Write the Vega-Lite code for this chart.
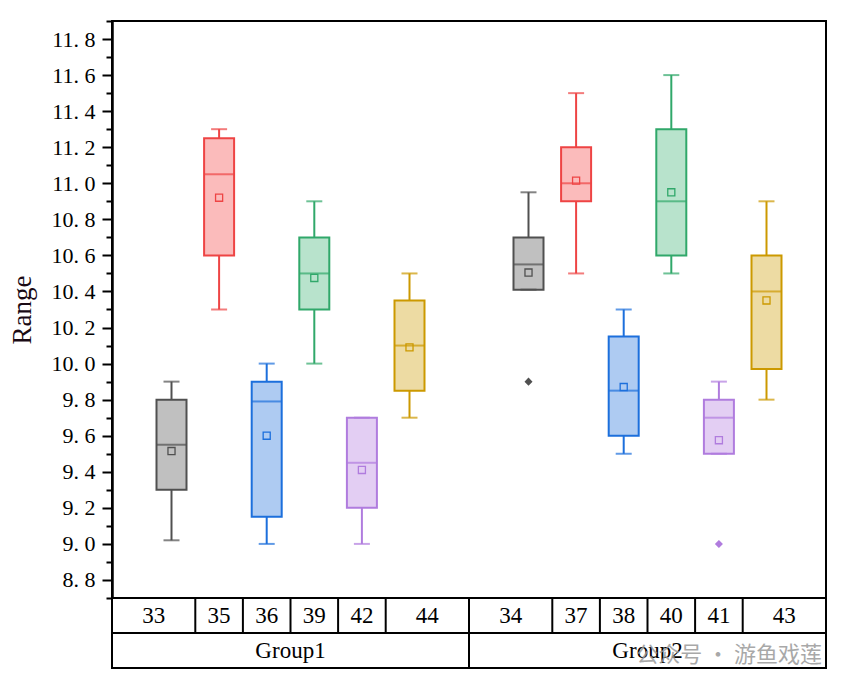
{
  "$schema": "https://vega.github.io/schema/vega-lite/v6.json",
  "background": "white",
  "padding": {"left": 7, "top": 19, "right": 23, "bottom": 10},
  "spacing": 0,
  "bounds": "flush",
  "config": {
    "view": {"stroke": "black", "strokeWidth": 2},
    "font": "Liberation Serif",
    "concat": {"spacing": 0}
  },
  "datasets": {
    "stats": [
      {"group": "Group1", "sample": "33", "min": 9.02, "q1": 9.3, "median": 9.55, "q3": 9.8, "max": 9.9, "mean": 9.515},
      {"group": "Group1", "sample": "35", "min": 10.3, "q1": 10.6, "median": 11.05, "q3": 11.25, "max": 11.3, "mean": 10.92},
      {"group": "Group1", "sample": "36", "min": 9.0, "q1": 9.15, "median": 9.79, "q3": 9.9, "max": 10.0, "mean": 9.6},
      {"group": "Group1", "sample": "39", "min": 10.0, "q1": 10.3, "median": 10.5, "q3": 10.7, "max": 10.9, "mean": 10.475},
      {"group": "Group1", "sample": "42", "min": 9.0, "q1": 9.2, "median": 9.45, "q3": 9.7, "max": 9.7, "mean": 9.41},
      {"group": "Group1", "sample": "44", "min": 9.7, "q1": 9.85, "median": 10.1, "q3": 10.35, "max": 10.5, "mean": 10.09},
      {"group": "Group2", "sample": "34", "min": 10.41, "q1": 10.41, "median": 10.55, "q3": 10.7, "max": 10.95, "mean": 10.505},
      {"group": "Group2", "sample": "37", "min": 10.5, "q1": 10.9, "median": 11.0, "q3": 11.2, "max": 11.5, "mean": 11.015},
      {"group": "Group2", "sample": "38", "min": 9.5, "q1": 9.6, "median": 9.85, "q3": 10.15, "max": 10.3, "mean": 9.87},
      {"group": "Group2", "sample": "40", "min": 10.5, "q1": 10.6, "median": 10.9, "q3": 11.3, "max": 11.6, "mean": 10.95},
      {"group": "Group2", "sample": "41", "min": 9.5, "q1": 9.5, "median": 9.7, "q3": 9.8, "max": 9.9, "mean": 9.575},
      {"group": "Group2", "sample": "43", "min": 9.8, "q1": 9.97, "median": 10.4, "q3": 10.6, "max": 10.9, "mean": 10.35}
    ],
    "outliers": [
      {"sample": "34", "value": 9.9},
      {"sample": "41", "value": 9.0}
    ],
    "groups": [
      {"group": "Group1", "note": ""},
      {"group": "Group2", "note": "公众号 · 游鱼戏莲"}
    ]
  },
  "vconcat": [
    {
      "width": 714,
      "height": 577,
      "data": {"name": "stats"},
      "resolve": {"axis": {"y": "independent"}},
      "encoding": {
        "x": {
          "field": "sample", "type": "nominal", "axis": null,
          "scale": {"type": "band", "paddingInner": 0, "paddingOuter": 1,
            "domain": ["e1","33","s1","35","s2","36","s3","39","s4","42","s5","44","s6","s7","s8","s9","34","s10","37","s11","38","s12","40","s13","41","s14","43","e2"]}
        }
      },
      "layer": [
        {
          "mark": {"type": "rule", "strokeWidth": 2},
          "encoding": {
            "y": {
              "field": "min", "type": "quantitative",
              "scale": {"domain": [8.7, 11.9], "nice": false, "zero": false},
              "axis": {
                "orient": "left", "title": null, "labels": false,
                "values": [8.7,8.9,9.1,9.3,9.5,9.7,9.9,10.1,10.3,10.5,10.7,10.9,11.1,11.3,11.5,11.7,11.9],
                "tickSize": 6, "tickWidth": 2, "tickColor": "black",
                "domainColor": "black", "domainWidth": 2, "grid": false
              }
            },
            "y2": {"field": "max"},
            "stroke": {"field": "sample", "type": "nominal", "legend": null,
              "scale": {"domain": ["33","35","36","39","42","44","34","37","38","40","41","43"],
                "range": ["#505050","#EE4444","#1C6FDC","#30A86A","#B07CDE","#CC9900","#505050","#EE4444","#1C6FDC","#30A86A","#B07CDE","#CC9900"]}}
          }
        },
        {
          "mark": {"type": "bar", "size": 30, "strokeWidth": 2},
          "encoding": {
            "y": {
              "field": "q1", "type": "quantitative", "title": "Range",
              "axis": {
                "orient": "left",
                "values": [8.8,9.0,9.2,9.4,9.6,9.8,10.0,10.2,10.4,10.6,10.8,11.0,11.2,11.4,11.6,11.8],
                "labelExpr": "replace(format(datum.value, '.1f'), '.', '. ')",
                "tickSize": 10, "tickWidth": 2, "tickColor": "black",
                "domainColor": "black", "domainWidth": 2, "grid": false,
                "labelFont": "Liberation Serif", "labelFontSize": 22, "labelColor": "black",
                "labelPadding": 7, "labelOverlap": false, "labelFlush": false,
                "titleFont": "Liberation Serif", "titleFontSize": 27, "titleFontWeight": "normal",
                "titleColor": "#1a0a14", "titlePadding": 15
              }
            },
            "y2": {"field": "q3"},
            "fill": {"field": "sample", "type": "nominal", "legend": null,
              "scale": {"domain": ["33","35","36","39","42","44","34","37","38","40","41","43"],
                "range": ["#C0C0C0","#FBBBBB","#AECBF2","#B8E3CC","#E3CEF3","#EDDBA3","#C0C0C0","#FBBBBB","#AECBF2","#B8E3CC","#E3CEF3","#EDDBA3"]}},
            "stroke": {"field": "sample", "type": "nominal", "legend": null}
          }
        },
        {
          "mark": {"type": "tick", "size": 30, "thickness": 2},
          "encoding": {
            "y": {"field": "median", "type": "quantitative", "axis": null},
            "color": {"field": "sample", "type": "nominal", "legend": null,
              "scale": {"domain": ["33","35","36","39","42","44","34","37","38","40","41","43"],
                "range": ["#505050","#EE4444","#1C6FDC","#30A86A","#B07CDE","#CC9900","#505050","#EE4444","#1C6FDC","#30A86A","#B07CDE","#CC9900"]}}
          }
        },
        {
          "mark": {"type": "tick", "size": 16, "thickness": 2},
          "encoding": {
            "y": {"field": "max", "type": "quantitative", "axis": null},
            "color": {"field": "sample", "type": "nominal", "legend": null}
          }
        },
        {
          "mark": {"type": "tick", "size": 16, "thickness": 2},
          "encoding": {
            "y": {"field": "min", "type": "quantitative", "axis": null},
            "color": {"field": "sample", "type": "nominal", "legend": null}
          }
        },
        {
          "mark": {"type": "point", "shape": "square", "filled": false, "size": 50, "strokeWidth": 1.3, "opacity": 1},
          "encoding": {
            "y": {"field": "mean", "type": "quantitative", "axis": null},
            "stroke": {"field": "sample", "type": "nominal", "legend": null}
          }
        },
        {
          "data": {"name": "outliers"},
          "mark": {"type": "point", "shape": "diamond", "filled": true, "size": 65, "opacity": 1},
          "encoding": {
            "y": {"field": "value", "type": "quantitative", "axis": null},
            "color": {"field": "sample", "type": "nominal", "legend": null}
          }
        }
      ]
    },
    {
      "width": 714,
      "height": 35,
      "data": {"name": "stats"},
      "layer": [
        {
          "transform": [{"filter": {"field": "sample", "oneOf": ["33", "34"]}}],
          "mark": {"type": "text", "fontSize": 23, "baseline": "middle", "font": "Liberation Serif", "color": "black"},
          "encoding": {
            "x": {"field": "sample", "type": "nominal", "axis": null, "bandPosition": -0.25,
              "scale": {"type": "band", "paddingInner": 0, "paddingOuter": 1,
                "domain": ["e1","33","s1","35","s2","36","s3","39","s4","42","s5","44","s6","s7","s8","s9","34","s10","37","s11","38","s12","40","s13","41","s14","43","e2"]}},
            "text": {"field": "sample"}
          }
        },
        {
          "transform": [{"filter": {"field": "sample", "oneOf": ["44", "43"]}}],
          "mark": {"type": "text", "fontSize": 23, "baseline": "middle", "font": "Liberation Serif", "color": "black"},
          "encoding": {
            "x": {"field": "sample", "type": "nominal", "axis": null, "bandPosition": 1.25},
            "text": {"field": "sample"}
          }
        },
        {
          "transform": [{"filter": {"not": {"field": "sample", "oneOf": ["33", "34", "44", "43"]}}}],
          "mark": {"type": "text", "fontSize": 23, "baseline": "middle", "font": "Liberation Serif", "color": "black"},
          "encoding": {
            "x": {"field": "sample", "type": "nominal", "axis": null, "bandPosition": 0.5},
            "text": {"field": "sample"}
          }
        },
        {
          "transform": [{"filter": {"not": {"field": "sample", "oneOf": ["33", "34"]}}}],
          "mark": {"type": "rule", "strokeWidth": 2, "color": "black"},
          "encoding": {
            "x": {"field": "sample", "type": "nominal", "axis": null, "bandPosition": -0.5}
          }
        },
        {
          "transform": [{"filter": {"field": "sample", "equal": "34"}}],
          "mark": {"type": "rule", "strokeWidth": 2, "color": "black"},
          "encoding": {
            "x": {"field": "sample", "type": "nominal", "axis": null, "bandPosition": -2}
          }
        }
      ]
    },
    {
      "width": 714,
      "height": 35,
      "data": {"name": "groups"},
      "encoding": {
        "x": {"field": "group", "type": "nominal", "axis": null,
          "scale": {"type": "band", "paddingInner": 0, "paddingOuter": 0}}
      },
      "layer": [
        {
          "mark": {"type": "text", "fontSize": 23, "baseline": "middle", "font": "Liberation Serif", "color": "black"},
          "encoding": {"text": {"field": "group"}}
        },
        {
          "transform": [{"filter": {"field": "group", "equal": "Group2"}}],
          "mark": {"type": "rule", "strokeWidth": 2, "color": "black"},
          "encoding": {"x": {"field": "group", "type": "nominal", "axis": null, "bandPosition": 0}}
        },
        {
          "transform": [{"filter": {"field": "group", "equal": "Group2"}}],
          "mark": {"type": "text", "fontSize": 22, "baseline": "middle", "align": "right", "dx": -4, "dy": 4, "font": "Noto Sans CJK SC", "color": "#9a9a9a", "opacity": 0.85},
          "encoding": {
            "x": {"field": "group", "type": "nominal", "axis": null, "bandPosition": 1},
            "text": {"field": "note"}
          }
        }
      ]
    }
  ]
}
